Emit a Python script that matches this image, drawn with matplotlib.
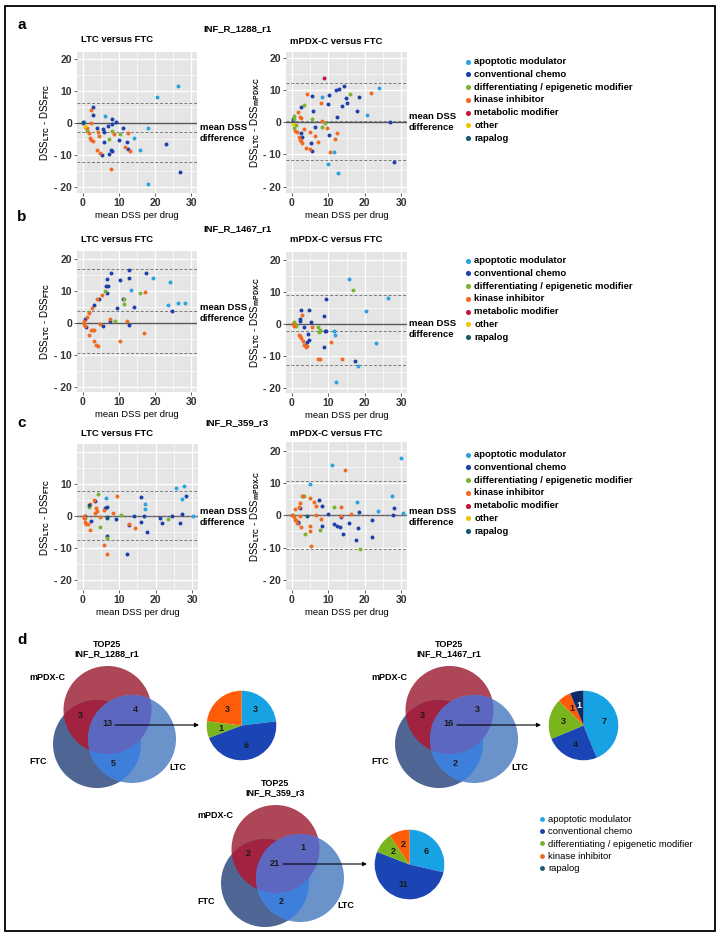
import matplotlib
matplotlib.use("Agg")
import matplotlib.pyplot as plt
from matplotlib.patches import Ellipse, Rectangle
from matplotlib.lines import Line2D

plt.rcParams["font.family"] = ["Liberation Sans", "DejaVu Sans"]
plt.rcParams["font.weight"] = "bold"
plt.rcParams["mathtext.fontset"] = "custom"
plt.rcParams["mathtext.rm"] = "Liberation Sans:bold"
plt.rcParams["mathtext.it"] = "Liberation Sans:bold"
plt.rcParams["mathtext.bf"] = "Liberation Sans:bold"

###############################################################################
# Categories

cat_codes = ["apo", "conv", "diff", "kin", "met", "oth", "rap"]
cat_names = ["apoptotic modulator", "conventional chemo",
             "differentiating / epigenetic modifier", "kinase inhibitor",
             "metabolic modifier", "other", "rapalog"]
cat_colors = {"apo": "#2aa3de", "conv": "#1d3fa9", "diff": "#7bb22f",
              "kin": "#f26a21", "met": "#c3163a", "oth": "#f2c500",
              "rap": "#165a72"}

###############################################################################
# Bland-Altman data : category -> (mean DSS, DSS difference)

a_ltc = {
    "apo": ([26.3, 20.4, 6.1, 18.1, 14.3, 15.8, 18.0, 0.2],
            [11.8, 8.1, 2.2, -1.5, -4.5, -8.3, -19.0, 0.4]),
    "conv": ([2.9, 2.9, 8.1, 9.2, 11.0, 3.8, 5.5, 6.0, 7.1, 8.1, 9.9, 12.1,
              5.8, 12.4, 7.7, 8.1, 5.4, 7.2, 22.9, 26.9, 0.1],
             [5.0, 2.6, 1.4, 0.4, -1.5, -1.5, -1.8, -2.6, -0.7, -0.2, -5.2,
              -5.7, -6.0, -8.0, -8.3, -8.6, -9.8, -9.7, -6.6, -15.2, 0.1]),
    "kin": ([2.3, 2.4, 1.6, 2.0, 2.3, 2.7, 4.1, 4.6, 4.0, 4.7, 8.6, 12.6,
             11.8, 13.2, 7.8, 1.1],
            [4.3, 0.0, -3.0, -4.6, -5.1, -5.6, -2.6, -3.9, -8.2, -9.4, -3.5,
             -3.1, -7.5, -8.8, -14.2, -1.4]),
    "diff": ([0.7, 1.1, 7.3, 8.1, 10.2], [-1.2, -2.3, -4.9, -2.3, -3.5]),
    "oth": ([0.5], [-0.7]),
    "rap": ([0.0], [0.4]),
}
a_ltc_limits = [6.3, -2.8, -12.0]

a_pdx = {
    "met": ([8.7], [13.75]),
    "apo": ([8.4, 23.8, 20.7, 10.0, 11.6, 12.6],
            [7.8, 10.7, 2.1, -13.0, -9.2, -15.8]),
    "conv": ([5.4, 10.2, 12.1, 13.0, 14.3, 14.9, 15.1, 13.8, 18.5, 17.9, 12.4,
              9.8, 5.9, 6.3, 2.4, 2.6, 2.9, 5.2, 5.4, 10.1, 27.9, 26.8, 0.4,
              0.2],
             [8.1, 8.4, 9.9, 10.4, 11.1, 7.4, 5.9, 5.1, 7.8, 3.6, 1.6, 5.7,
              3.6, -1.6, 4.7, -3.4, -4.5, -6.6, -8.9, -3.9, -12.3, 0.0, 1.0,
              0.5]),
    "kin": ([4.1, 7.9, 1.6, 2.3, 2.6, 0.9, 1.3, 2.0, 2.3, 2.6, 2.9, 3.4, 3.8,
             4.9, 5.0, 6.4, 7.3, 8.4, 10.4, 11.9, 12.5, 21.8, 9.7],
            [8.9, 5.9, 3.3, 1.6, 1.25, -2.6, -2.9, -4.5, -5.5, -5.9, -6.6,
             -2.1, -8.1, -8.3, -2.9, -4.3, -6.3, 0.5, -9.2, -5.3, -3.3, 9.1,
             -1.9]),
    "diff": ([3.4, 0.7, 0.5, 0.5, 5.4, 8.4, 9.0, 15.9, 1.1],
             [5.4, 2.0, 1.0, -1.9, 0.9, -1.4, -0.3, 8.9, -1.0]),
    "oth": ([0.4], [-0.5]),
}
a_pdx_limits = [12.3, 0.25, -11.8]

b_ltc = {
    "conv": ([7.8, 6.8, 6.5, 6.9, 6.8, 4.6, 3.0, 0.6, 0.9, 5.7, 7.6, 9.4, 10.3,
              12.7, 12.9, 11.1, 14.2, 12.9, 17.5, 24.7],
             [15.8, 13.75, 11.7, 11.7, 9.4, 7.6, 5.6, 1.25, -1.25, -1.0, 0.8,
              4.7, 13.5, 16.7, 14.2, 7.6, 5.2, -0.7, 15.6, 3.85]),
    "apo": ([19.4, 24.0, 13.3, 23.7, 26.4, 28.3],
            [14.3, 12.8, 10.4, 5.7, 6.25, 6.25]),
    "diff": ([6.2, 11.3, 11.4, 15.7, 9.0, 1.8, 0.2],
             [10.1, 7.5, 6.0, 9.6, 0.8, 3.5, 0.0]),
    "kin": ([5.3, 3.9, 2.5, 1.8, 1.3, 0.4, 1.6, 2.2, 2.8, 3.2, 3.0, 3.6, 4.1,
             4.8, 7.6, 10.3, 12.2, 17.3, 17.0, 0.2, 0.6],
            [8.9, 7.5, 4.9, 3.3, 2.1, 0.8, -3.6, -2.1, -2.1, -2.1, -5.4, -6.8,
             -7.0, -0.3, 1.25, -5.7, 0.8, 9.7, -2.9, -0.2, -0.8]),
}
b_ltc_limits = [17.0, 3.85, -9.2]

b_pdx = {
    "apo": ([15.6, 26.4, 20.4, 23.1, 11.7, 18.2, 11.9, 12.1],
            [14.0, 8.2, 4.3, -5.8, -2.1, -12.9, -3.5, -18.2]),
    "diff": ([16.7, 0.6, 0.9, 7.1, 7.4, 7.8, 1.1],
             [10.6, 0.8, 0.0, -1.0, -2.3, -1.9, -0.5]),
    "conv": ([2.6, 4.8, 9.5, 8.8, 5.3, 2.3, 2.3, 3.4, 4.5, 4.8, 4.2, 3.7, 8.8,
              9.0, 9.3, 17.4],
             [4.4, 4.4, 8.0, 2.6, 0.6, 1.1, 1.6, -1.0, -3.1, -4.9, -5.6, -6.4,
              -7.0, -2.1, -2.1, -11.6]),
    "kin": ([2.9, 2.0, 2.3, 2.5, 3.0, 3.4, 3.9, 4.2, 5.5, 10.8, 7.1, 7.6, 13.8,
             0.4, 0.6],
            [2.9, -3.3, -3.8, -4.3, -5.2, -6.4, -7.2, -6.8, -0.8, -5.4, -10.9,
             -10.9, -10.9, 0.0, -0.5]),
}
b_pdx_limits = [9.1, -2.0, -12.7]

c_ltc = {
    "apo": ([25.6, 27.7, 27.2, 17.1, 17.1, 6.3, 30.1],
            [8.8, 9.4, 5.3, 3.9, 2.2, 5.7, 0.1]),
    "conv": ([28.3, 16.0, 3.4, 6.1, 6.5, 2.2, 9.0, 12.8, 14.0, 16.8, 16.0,
              17.6, 21.2, 21.8, 24.6, 26.7, 27.2, 12.1, 6.7, 0.6],
             [6.4, 5.9, 4.6, 2.6, 2.8, -1.4, -1.0, -2.8, 0.2, 0.0, -1.8, -4.8,
              -0.7, -2.1, 0.2, -2.0, 0.8, -11.9, -6.1, 0.1]),
    "rap": ([1.8, 6.7, 6.5], [3.4, -0.5, -0.3]),
    "diff": ([4.2, 1.6, 4.7, 6.5, 10.4, 23.5, 0.7],
             [6.8, 2.9, -3.3, -6.7, 0.3, -0.8, -0.7]),
    "kin": ([9.5, 1.9, 3.2, 3.6, 3.3, 3.9, 4.8, 5.8, 8.2, 0.9, 1.3, 0.6, 2.1,
             12.6, 14.2, 5.8, 6.5, 0.2, 0.4],
            [6.3, 3.9, 4.9, 2.6, 1.1, 1.6, -0.4, 1.9, 1.1, -2.3, -2.5, -1.8,
             -4.3, -2.5, -3.8, -9.0, -11.8, 0.0, -0.7]),
}
c_ltc_limits = [7.8, 0.2, -7.5]

c_pdx = {
    "apo": ([29.9, 11.0, 5.1, 17.9, 27.4, 23.6, 30.5],
            [17.8, 15.5, 9.8, 4.3, 5.9, 1.4, 0.8]),
    "kin": ([14.5, 3.1, 5.0, 6.0, 6.5, 2.3, 1.0, 2.1, 2.3, 0.9, 0.6, 1.1, 1.5,
             2.4, 4.9, 4.9, 5.3, 7.9, 6.7, 13.5, 13.6, 16.1, 0.1],
            [14.1, 5.9, 5.5, 4.3, 2.9, 3.9, 1.9, 2.6, -0.3, -1.3, -0.5, -1.5,
             -2.4, -3.6, -3.3, -4.9, -9.4, -1.0, 0.0, 2.6, -0.3, 0.3, 0.0]),
    "diff": ([2.8, 3.3, 3.7, 7.6, 11.5, 18.7, 0.3],
             [5.9, 6.1, -5.7, -4.4, 2.6, -10.6, 0.0]),
    "conv": ([7.4, 8.3, 9.8, 8.3, 2.3, 1.6, 11.6, 12.5, 13.2, 14.1, 13.4, 15.7,
              18.2, 18.4, 17.6, 21.9, 22.1, 27.8, 28.1, 1.7],
             [4.9, 3.0, 0.5, -3.4, 2.3, -2.3, -2.8, -3.2, -3.5, -5.7, -0.5,
              -2.5, -3.8, 0.9, -7.7, -6.7, -1.5, 0.0, 2.4, -2.0]),
    "rap": ([4.2], [-0.2]),
}
c_pdx_limits = [10.8, 0.15, -10.5]

###############################################################################
# Venn / pie data (panel d)

venn_titles = ["TOP25\nINF_R_1288_r1", "TOP25\nINF_R_1467_r1",
               "TOP25\nINF_R_359_r3"]
# regions : mPDX-C & FTC, mPDX-C & LTC, all three, FTC & LTC
venn_counts = [[3, 4, 13, 5], [3, 3, 16, 2], [2, 1, 21, 2]]
pie_codes = ["apo", "conv", "diff", "kin", "rap"]
pie_1288 = [3, 6, 1, 3, 0]
pie_1467 = [7, 4, 3, 1, 1]
pie_359 = [6, 11, 2, 2, 0]
pie_colors = {"apo": "#17a2e3", "conv": "#1b45b5", "diff": "#7ab51d",
              "kin": "#ff5c0a", "rap": "#0c2a68"}

###############################################################################

W, H = 723, 938
fig = plt.figure(figsize=(W / 100, H / 100), dpi=100)


def px_axes(x0, y0, x1, y1):
    """Axes placees en pixels (origine en haut a gauche)."""
    return fig.add_axes([x0 / W, 1 - y1 / H, (x1 - x0) / W, (y1 - y0) / H])


# calque plein cadre en coordonnees pixels
ov = fig.add_axes([0, 0, 1, 1])
ov.set_xlim(0, W)
ov.set_ylim(H, 0)
ov.axis("off")
ov.add_patch(Rectangle((5, 6), 710, 925, fill=False, lw=1.3,
                       edgecolor="black"))


def fmt_tick(v):
    return f"- {abs(v)}" if v < 0 else f"{v}"


def bland_altman(box, data, limits, ylim, sub, hide_top=False):
    ax = px_axes(*box)
    ax.set_facecolor("#e5e5e5")
    ax.set_xlim(-1.6, 31.6)
    ax.set_ylim(*ylim)
    yt = [-20, -10, 0, 10, 20]
    ax.set_xticks([0, 10, 20, 30])
    ax.set_xticks([5, 15, 25], minor=True)
    ax.set_yticks(yt)
    ax.set_yticks([-15, -5, 5, 15], minor=True)
    labels = [fmt_tick(v) for v in yt]
    if hide_top:
        labels[-1] = ""
    ax.set_yticklabels(labels)
    ax.grid(which="major", color="white", lw=0.9)
    ax.grid(which="minor", color="white", lw=0.45)
    ax.set_axisbelow(True)
    for s in ax.spines.values():
        s.set_visible(False)
    ax.tick_params(which="major", length=2, width=0.6, color="#444444",
                   pad=1.5, labelsize=7.5, labelcolor="#333333")
    ax.tick_params(which="minor", length=0)
    if hide_top:
        ax.yaxis.get_major_ticks()[-1].tick1line.set_visible(False)

    handles = []
    for code, name in zip(cat_codes, cat_names):
        xs, ys = data.get(code, ([], []))
        h = ax.scatter(xs, ys, s=8, color=cat_colors[code], linewidths=0,
                       label=name, zorder=4)
        handles.append(h)

    ax.axhline(0, color="#555555", lw=1.0, zorder=2)
    for v in limits:
        ax.axhline(v, color="#7a7a7a", lw=0.7, ls=(0, (3, 2)), zorder=3)

    ax.set_xlabel("mean DSS per drug", fontsize=6.8, labelpad=2)
    ax.set_ylabel(r"DSS$_{\rm LTC}$ - DSS$_{" + sub + "}$", fontsize=7)
    ax.yaxis.set_label_coords(-24.5 / (box[2] - box[0]), 0.5)
    return ax, handles


panels = [
    (25, "a", "INF_R_1288_r1", 29, 40,
     (77, 52, 197, 193), a_ltc, a_ltc_limits, (-21.8, 22.3), 133,
     (286, 52, 407, 193), a_pdx, a_pdx_limits, (-22.0, 21.8), 122, 57, False),
    (217, "b", "INF_R_1467_r1", 229, 240,
     (77, 251, 197, 392), b_ltc, b_ltc_limits, (-21.5, 22.6), 313,
     (286, 252, 407, 393), b_pdx, b_pdx_limits, (-21.5, 22.6), 329, 256,
     False),
    (423, "c", "INF_R_359_r3", 423, 433,
     (77, 444, 198, 590), c_ltc, c_ltc_limits, (-23.0, 22.5), 517,
     (286, 442, 407, 590), c_pdx, c_pdx_limits, (-23.2, 22.8), 517, 450,
     True),
]

for (ly, letter, sample, sy, ty, box_l, d_l, lim_l, yl_l, my_l,
     box_r, d_r, lim_r, yl_r, my_r, leg_y, hide) in panels:
    ov.text(17, ly, letter, fontsize=11, ha="left", va="center")
    ov.text(237, sy, sample, fontsize=6.8, ha="center", va="center")
    ov.text((box_l[0] + box_l[2]) / 2 - 20, ty, "LTC versus FTC",
            fontsize=6.8, ha="center", va="center")
    ov.text((box_r[0] + box_r[2]) / 2 - 10, ty + (2 if letter == "a" else 0),
            "mPDX-C versus FTC", fontsize=6.8, ha="center", va="center")
    ax_l, _ = bland_altman(box_l, d_l, lim_l, yl_l, r"\rm FTC", hide)
    ax_r, handles = bland_altman(box_r, d_r, lim_r, yl_r,
                                 r"\rm mPDX\text{-}C")
    ov.text(200, my_l, "mean DSS\ndifference", fontsize=6.8, ha="left",
            va="center", linespacing=1.15)
    ov.text(409, my_r, "mean DSS\ndifference", fontsize=6.8, ha="left",
            va="center", linespacing=1.15)
    ax_r.legend(handles=handles, loc="upper left",
                bbox_to_anchor=(463 / W, 1 - leg_y / H),
                bbox_transform=fig.transFigure, frameon=False, fontsize=6.8,
                handletextpad=0.2, labelspacing=0.4, borderpad=0,
                borderaxespad=0, markerscale=1.3, handlelength=1.0)

###############################################################################
# Panel d : Venn + camemberts

ov.text(17, 640, "d", fontsize=11, ha="left", va="center")

venn_anchor = [(107, 645), (449, 645), (275, 784)]
pies = [pie_1288, pie_1467, pie_359]

c_red, c_ftc, c_ltc = "#ad4656", "#4f6694", "#6a93cc"
c_red_ftc, c_ftc_ltc, c_pdx_ltc = "#a1233f", "#3f7fdc", "#5d67bf"
R = 44

for (vx, vy), title, counts, pie in zip(venn_anchor, venn_titles,
                                        venn_counts, pies):
    ov.text(vx, vy + 4, title, fontsize=6.5, ha="center", va="center",
            linespacing=1.1)
    cen_pdx = (vx + 0.5, vy + 65)
    cen_ftc = (vx - 10, vy + 99)
    cen_ltc = (vx + 25, vy + 94)

    def circ(c, col):
        return Ellipse(c, 2 * R, 2 * R, facecolor=col, edgecolor="none",
                       transform=ov.transData)

    p_red = circ(cen_pdx, c_red)
    p_ftc = circ(cen_ftc, c_ftc)
    p_ltc = circ(cen_ltc, c_ltc)
    for p in (p_red, p_ftc, p_ltc):
        ov.add_patch(p)
    # intersections
    e = ov.add_patch(circ(cen_ftc, c_red_ftc))
    e.set_clip_path(circ(cen_pdx, "none"))
    e = ov.add_patch(circ(cen_ltc, c_ftc_ltc))
    e.set_clip_path(circ(cen_ftc, "none"))
    e = ov.add_patch(circ(cen_ltc, c_pdx_ltc))
    e.set_clip_path(circ(cen_pdx, "none"))

    ov.text(vx - 42, vy + 32, "mPDX-C", fontsize=6.5, ha="right",
            va="center")
    ov.text(vx - 69, vy + 117, "FTC", fontsize=6.5, ha="center", va="center")
    ov.text(vx + 71, vy + 122, "LTC", fontsize=6.5, ha="center", va="center")
    offs = [(-27, 70), (28, 64), (0, 79), (6, 118)]
    for n, (dx, dy) in zip(counts, offs):
        ov.text(vx + dx, vy + dy, str(n), fontsize=6.5, ha="center",
                va="center", color="#1a1a1a")

    ov.annotate("", xy=(vx + 92, vy + 80), xytext=(vx + 8, vy + 80),
                arrowprops=dict(arrowstyle="-|>", color="black", lw=0.8,
                                mutation_scale=6, shrinkA=0, shrinkB=0))

    # camembert
    pr = 35.5
    pcx, pcy = vx + 134.5, vy + 80.5
    axp = px_axes(pcx - pr, pcy - pr, pcx + pr, pcy + pr)
    vals = [v for v in pie if v > 0]
    cols = [pie_colors[c] for c, v in zip(pie_codes, pie) if v > 0]
    wedges, texts = axp.pie(vals, colors=cols, startangle=90,
                            counterclock=False, labels=[str(v) for v in vals],
                            labeldistance=0.6,
                            textprops=dict(fontsize=6.5, color="#1a1a1a",
                                           ha="center", va="center"))
    for t, c in zip(texts, [c for c, v in zip(pie_codes, pie) if v > 0]):
        if c == "rap":
            t.set_color("white")
    axp.set_xlim(-1.02, 1.02)
    axp.set_ylim(-1.02, 1.02)

# legende du panel d
d_handles = [Line2D([], [], ls="none", marker="o", ms=3.5,
                    markerfacecolor=cat_colors[c], markeredgewidth=0)
             for c in pie_codes]
d_names = [cat_names[cat_codes.index(c)] for c in pie_codes]
ov.legend(d_handles, d_names, loc="upper left",
          bbox_to_anchor=(537 / W, 1 - 815 / H),
          bbox_transform=fig.transFigure, frameon=False,
          prop=dict(size=6.8, weight="normal"), handletextpad=0.2,
          labelspacing=0.35, borderpad=0, borderaxespad=0, handlelength=1.0)

fig.savefig("out.png", dpi=100)
